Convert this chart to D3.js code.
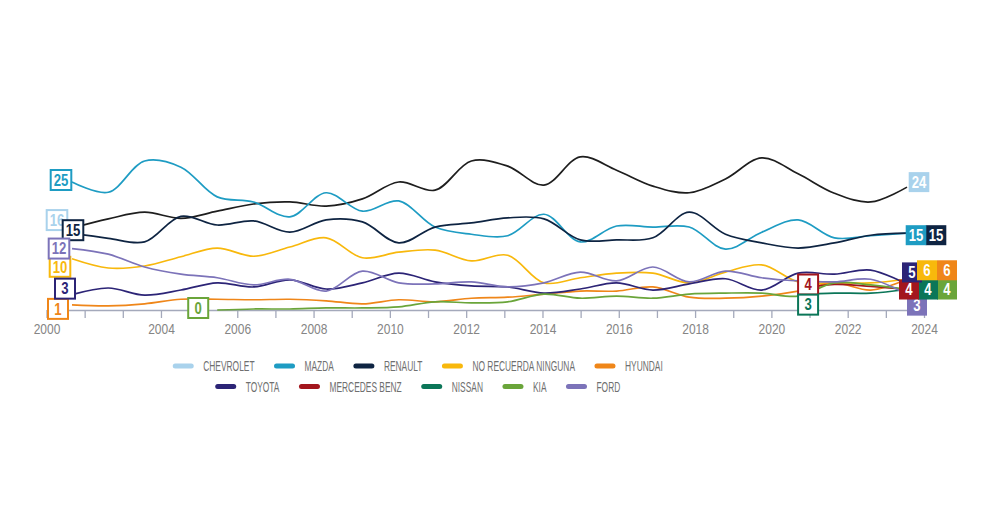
<!DOCTYPE html>
<html>
<head>
<meta charset="utf-8">
<script src="https://cdn.jsdelivr.net/npm/d3@7"></script>
<style>
  body { margin: 0; background: #fff; }
  .canvas text { font-family: 'Liberation Sans', Arial, sans-serif; }
</style>
</head>
<body>
<div class="canvas"></div>
<script>
/* ----------- DATA ----------- */
// survey rounds, plotted left to right
const waves = d3.range(24);
const tickYears = [2000, 2004, 2006, 2008, 2010, 2012, 2014, 2016, 2018, 2020, 2022, 2024];

const brands = ['CHEVROLET', 'MAZDA', 'RENAULT', 'NO RECUERDA NINGUNA', 'HYUNDAI',
                'TOYOTA', 'MERCEDES BENZ', 'NISSAN', 'KIA', 'FORD'];
const colors = ['#a9d2ec', '#1e9cc3', '#0e2442', '#f8b80c', '#ef8619',
                '#2c2476', '#a3161d', '#0b7658', '#6aa53a', '#7c73b9'];

const chevrolet  = [16, 17.8, 19.1, 17.9, 19.3, 20.7, 21.1, 20.3, 21.7, 25, 23.4, 29.1, 28.1, 24.4, 29.9, 27.3, 24.2, 22.9, 25.6, 29.7, 26.6, 22.8, 21.1, 24];
const mazda      = [25, 23, 29.1, 27.9, 22.1, 21.1, 18.2, 22.9, 19.3, 21.3, 16.2, 14.8, 14.5, 18.7, 13.3, 16.4, 16.2, 16.2, 11.9, 15.2, 17.6, 14.1, 14.5, 15];
const renault    = [15, 14, 13.3, 18.3, 16.6, 17.4, 15.2, 17.6, 17.2, 13.1, 16.2, 17, 18, 17.8, 13.7, 13.7, 14.1, 19.1, 14.8, 13.1, 12.1, 13.1, 14.6, 15];
const noRecuerda = [10, 8.2, 8.6, 10.4, 12.1, 10.5, 12.3, 14.1, 10.2, 11.3, 11.7, 9.6, 10.7, 5.3, 6.3, 7.2, 7.2, 5.3, 7.4, 8.8, 5.5, 5.3, 5.3, 6];
const hyundai    = [1, 0.8, 1.2, 2.1, 2.1, 2, 2.1, 1.8, 1.2, 2, 1.6, 2.3, 2.5, 3.1, 3.7, 3.7, 4.5, 2.5, 2.3, 2.7, 3.7, 5.3, 3.9, 6];
const toyota     = [3, 4.3, 2.9, 3.9, 5.3, 4.5, 5.9, 4.1, 5.3, 7.2, 5.5, 4.7, 4.5, 3.3, 4.1, 5.3, 3.9, 5.1, 6.1, 3.9, 7.2, 7, 7.8, 5];
const mercedes   = [null, null, null, null, null, null, null, null, null, null, null, null, null, null, null, null, null, null, null, null, 4, 5, 4.6, 4];
const nissan     = [null, null, null, null, null, null, null, null, null, null, null, null, null, null, null, null, null, null, null, null, 3, 3.3, 3.3, 4];
const kia        = [null, null, null, null, 0, 0.2, 0.2, 0.4, 0.4, 0.6, 1.6, 1.4, 1.6, 3.1, 2.3, 2.7, 2.3, 3.1, 3.3, 3.3, 2.7, 5.3, 4.9, 4];
const ford       = [12, 10.9, 8.4, 7, 6.3, 4.9, 6, 3.7, 7.6, 5.3, 5.1, 5.5, 4.5, 5.3, 7.4, 5.7, 8.4, 5.5, 7.6, 6.3, 5.7, 5.5, 6, 3];

const valueLists = [chevrolet, mazda, renault, noRecuerda, hyundai, toyota, mercedes, nissan, kia, ford];

// the chevrolet curve is drawn near black in the original
const lineColors = colors.map((c, i) => i === 0 ? '#1e1e1e' : c);

// label box nudges (px) so boxes don't sit on each other
const startNudge = {
  'CHEVROLET': [-15, -8], 'MAZDA': [-11, -2], 'RENAULT': [1, -3], 'NO RECUERDA NINGUNA': [-12, 8],
  'HYUNDAI': [-14, 4], 'TOYOTA': [-7, -6], 'MERCEDES BENZ': [10, -5], 'NISSAN': [10, 10],
  'KIA': [-19, -2], 'FORD': [-13, 0]
};
const endNudge = {
  'CHEVROLET': [12, -5], 'MAZDA': [9, 2], 'RENAULT': [29, 2], 'NO RECUERDA NINGUNA': [20, -9],
  'HYUNDAI': [40, -9], 'TOYOTA': [5, -12], 'MERCEDES BENZ': [2, 0], 'NISSAN': [21, 0],
  'KIA': [40, 0], 'FORD': [10, 11]
};

const series = brands.map((name, i) => ({
  name,
  color: colors[i],
  stroke: lineColors[i],
  values: valueLists[i].map((v, j) => ({ wave: waves[j], v }))
}));

/* ----------- CONTAINER ----------- */
const svg = d3.select('.canvas')
  .append('svg')
  .attr('width', 1000)
  .attr('height', 530);

svg.append('rect').attr('width', 1000).attr('height', 530).attr('fill', '#fff');

/* ----------- SCALES & AXES ----------- */
const baseY = 310;

// axis years: the first label sits one slot before 2004's regular spacing
const x = d3.scaleLinear()
  .domain([2000, 2004, 2024])
  .range([46.5, 161, 924]);

// one tick per slot along the axis
const slot = d3.scaleLinear().domain([0, 23]).range([46.5, 924]);

// survey rounds along the plot
const xWave = d3.scalePoint().domain(waves).range([72, 907]);

const y = d3.scaleLinear().domain([0, 30]).range([baseY, 156.4]);

const tickAxis = svg.append('g')
  .attr('transform', `translate(0,${baseY})`)
  .call(d3.axisBottom(slot).ticks(24).tickSize(8).tickSizeOuter(0).tickFormat(''));
tickAxis.selectAll('path, line').attr('stroke', '#a4a9bb').attr('stroke-width', 1.3);

const labelAxis = svg.append('g')
  .attr('transform', `translate(0,${baseY})`)
  .call(d3.axisBottom(x).tickValues(tickYears).tickSize(0).tickPadding(13).tickFormat(d3.format('d')));
labelAxis.select('.domain').remove();
labelAxis.selectAll('text')
  .attr('fill', '#858585')
  .attr('transform', 'scale(0.8,1)')
  .style('font-size', '15px');

/* ----------- LINES ----------- */
const line = d3.line()
  .defined(d => d.v !== null)
  .x(d => xWave(d.wave))
  .y(d => y(d.v))
  .curve(d3.curveCatmullRom.alpha(0.5));

svg.append('g')
  .selectAll('path')
  .data(series)
  .enter()
  .append('path')
  .attr('d', d => line(d.values))
  .attr('fill', 'none')
  .attr('stroke', d => d.stroke)
  .attr('stroke-width', 1.7);

/* ----------- VALUE BOXES ----------- */
const boxSqueeze = 0.82;

const drawBox = (g, cx, cy, text, color, filled) => {
  const box = g.append('g').attr('transform', `translate(${cx},${cy})`);
  const rect = box.append('rect');
  const t = box.append('text')
    .attr('text-anchor', 'middle')
    .attr('dy', '0.36em')
    .attr('transform', `scale(${boxSqueeze},1)`)
    .style('font-size', '16px')
    .style('font-weight', 'bold')
    .attr('fill', filled ? '#fff' : color)
    .text(text);
  const w = Math.max(20, t.node().getComputedTextLength() * boxSqueeze + 6);
  const h = 20;
  rect.attr('x', -w / 2).attr('y', -h / 2).attr('width', w).attr('height', h)
    .attr('fill', filled ? color : '#fff')
    .attr('stroke', filled ? 'none' : color)
    .attr('stroke-width', 2);
};

const boxes = svg.append('g');

// first value of each series, outlined
series.forEach(s => {
  const first = s.values.find(d => d.v !== null);
  const [dx, dy] = startNudge[s.name];
  drawBox(boxes, xWave(first.wave) + dx, y(first.v) + dy, d3.format('d')(first.v), s.color, false);
});

// last value, filled (reverse order so toyota sits under its neighbours)
series.slice().reverse().forEach(s => {
  const last = s.values[s.values.length - 1];
  const [dx, dy] = endNudge[s.name];
  drawBox(boxes, xWave(last.wave) + dx, y(last.v) + dy, d3.format('d')(last.v), s.color, true);
});

/* ----------- LEGEND ----------- */
const legendRows = [brands.slice(0, 5), brands.slice(5)];
const squeeze = 0.6;
const legendCenter = 419;

legendRows.forEach((row, r) => {
  const cy = 366 + r * 20.5;
  const g = svg.append('g');
  let cursor = 0;
  row.forEach(name => {
    const item = g.append('g');
    item.append('line')
      .attr('x1', 0).attr('x2', 16).attr('y1', 0).attr('y2', 0)
      .attr('stroke', colors[brands.indexOf(name)])
      .attr('stroke-width', 5)
      .attr('stroke-linecap', 'round');
    const t = item.append('text')
      .attr('transform', `translate(28,5) scale(${squeeze},1)`)
      .attr('fill', '#6f6f6f')
      .style('font-size', '14px')
      .text(name);
    const w = 28 + t.node().getComputedTextLength() * squeeze;
    item.attr('transform', `translate(${cursor},${cy})`);
    cursor += w + 22;
  });
  const total = cursor - 22;
  g.attr('transform', `translate(${legendCenter - total / 2},0)`);
});
</script>
</body>
</html>
